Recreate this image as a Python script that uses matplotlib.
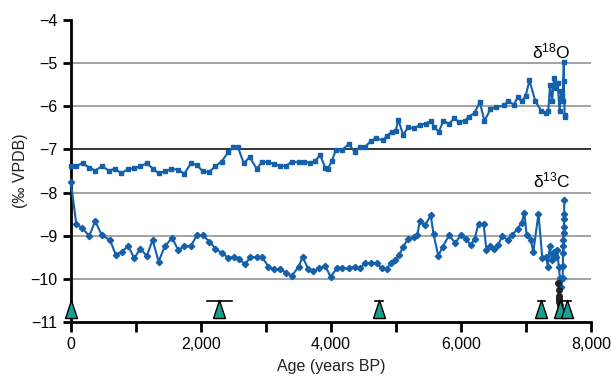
import matplotlib
matplotlib.use("Agg")
import matplotlib.pyplot as plt
from matplotlib.ticker import FuncFormatter

plt.rcParams['font.family'] = ['Liberation Sans', 'DejaVu Sans']
plt.rcParams['mathtext.default'] = 'regular'

# d18O record (age in years BP, permil VPDB)
o18_age = [0, 84, 180, 283, 373, 476, 584, 674, 777, 885, 975, 1066, 1168, 1264, 1349,
           1445, 1547, 1649, 1746, 1848, 1938, 2029, 2131, 2221, 2318, 2420, 2492, 2570,
           2661, 2751, 2860, 2944, 3040, 3130, 3221, 3311, 3401, 3504, 3594, 3684, 3762,
           3835, 3913, 3955, 4015, 4076, 4166, 4274, 4365, 4449, 4527, 4617, 4696, 4798,
           4858, 4936, 4996, 5039, 5111, 5189, 5280, 5370, 5460, 5538, 5592, 5659, 5731,
           5821, 5894, 5972, 6062, 6122, 6212, 6291, 6363, 6453, 6544, 6664, 6724, 6815,
           6875, 6935, 6995, 7056, 7146, 7236, 7314, 7344, 7374, 7404, 7434, 7464, 7489,
           7519, 7543, 7567, 7585, 7585, 7597, 7600]
o18_val = [-7.38, -7.38, -7.32, -7.42, -7.49, -7.39, -7.49, -7.45, -7.55, -7.45, -7.44,
           -7.39, -7.32, -7.45, -7.55, -7.51, -7.45, -7.47, -7.56, -7.32, -7.36, -7.51,
           -7.52, -7.39, -7.28, -7.07, -6.95, -6.95, -7.32, -7.18, -7.45, -7.28, -7.30,
           -7.34, -7.38, -7.38, -7.28, -7.30, -7.28, -7.32, -7.26, -7.13, -7.42, -7.45,
           -7.26, -7.02, -7.02, -6.88, -7.05, -6.94, -6.94, -6.80, -6.74, -6.79, -6.69,
           -6.59, -6.57, -6.32, -6.66, -6.49, -6.51, -6.43, -6.40, -6.34, -6.48, -6.59,
           -6.34, -6.40, -6.28, -6.36, -6.33, -6.24, -6.15, -5.90, -6.34, -6.07, -6.02,
           -5.98, -5.88, -5.96, -5.79, -5.88, -5.77, -5.40, -5.88, -6.10, -6.15, -6.11,
           -5.50, -5.88, -5.34, -5.57, -5.46, -6.11, -5.65, -5.88, -4.96, -5.42, -6.19,
           -6.25]

# d13C record
c13_age = [0, 84, 174, 283, 373, 476, 602, 692, 782, 885, 975, 1066, 1168, 1258, 1349,
           1445, 1559, 1649, 1746, 1848, 1938, 2029, 2131, 2221, 2318, 2420, 2510, 2582,
           2679, 2763, 2860, 2944, 3040, 3130, 3221, 3311, 3401, 3504, 3564, 3654, 3732,
           3823, 3913, 3997, 4088, 4178, 4274, 4365, 4449, 4527, 4617, 4708, 4786, 4858,
           4918, 4990, 5051, 5111, 5189, 5280, 5328, 5370, 5448, 5538, 5580, 5653, 5719,
           5821, 5912, 6002, 6074, 6152, 6212, 6273, 6351, 6393, 6453, 6514, 6574, 6634,
           6724, 6785, 6875, 6935, 6977, 7013, 7073, 7116, 7194, 7254, 7314, 7338, 7368,
           7398, 7428, 7458, 7483, 7507, 7525, 7543, 7567, 7569, 7572, 7575, 7578, 7581,
           7584, 7587, 7589, 7591]
c13_val = [-7.76, -8.74, -8.82, -9.01, -8.66, -8.99, -9.10, -9.45, -9.37, -9.24, -9.53,
           -9.30, -9.47, -9.10, -9.60, -9.25, -9.05, -9.33, -9.25, -9.24, -8.99, -8.99,
           -9.14, -9.30, -9.40, -9.51, -9.50, -9.54, -9.66, -9.50, -9.50, -9.50, -9.72,
           -9.78, -9.78, -9.86, -9.93, -9.72, -9.49, -9.78, -9.83, -9.76, -9.70, -9.96,
           -9.76, -9.76, -9.76, -9.72, -9.76, -9.64, -9.64, -9.64, -9.76, -9.78, -9.64,
           -9.56, -9.45, -9.26, -9.07, -9.04, -8.99, -8.66, -8.76, -8.53, -8.97, -9.47,
           -9.26, -8.99, -9.17, -8.99, -9.07, -9.22, -9.07, -8.72, -8.74, -9.33, -9.24,
           -9.32, -9.22, -9.01, -9.10, -8.99, -8.84, -8.70, -8.47, -8.99, -9.09, -9.37,
           -8.49, -9.53, -9.49, -9.72, -9.24, -9.56, -9.37, -9.49, -9.33, -9.72, -9.99,
           -10.18, -9.99, -9.70, -9.41, -9.25, -9.10, -8.95, -8.80, -8.62, -8.49, -8.17]

# black cluster at the base of the record
blk_age = [7500, 7505, 7510, 7515, 7520, 7512, 7505]
blk_val = [-10.10, -10.25, -10.40, -10.50, -10.62, -10.55, -10.45]

# U-Th dates with errors
date_age = [0, 2285, 4740, 7240, 7520, 7630]
date_err = [0, 195, 60, 60, 0, 60]

blue = '#1460ab'

fig = plt.figure(figsize=(6.11, 3.80), dpi=100)
ax = fig.add_axes([0.116, 0.153, 0.851, 0.794])

for yv in [-5, -6, -7, -8, -9, -10]:
    ax.axhline(yv, color='black' if yv == -7 else '#8a8a8a', lw=1.1, zorder=1)

ax.plot(o18_age, o18_val, color=blue, lw=1.5, marker='s', ms=3.2, zorder=3, clip_on=False)
ax.plot(c13_age, c13_val, color=blue, lw=1.5, marker='D', ms=3.2, zorder=3, clip_on=False)
ax.plot(blk_age, blk_val, color='#222222', lw=1.5, marker='o', ms=4, zorder=4)

tri = [(-0.33, -0.5), (0.33, -0.5), (0, 0.5), (-0.33, -0.5)]
for a, e in zip(date_age, date_err):
    if e > 0:
        ax.plot([a - e, a + e], [-10.52, -10.52], color='black', lw=1.2, zorder=5)
    ax.plot(a, -10.7, marker=tri, ms=13, color='#17a090', mec='black', mew=1.0,
            ls='none', zorder=6, clip_on=False)

ax.text(7690, -4.95, '\u03b4$^{18}$O', ha='right', va='bottom', fontsize=12.5)
ax.text(7690, -7.95, '\u03b4$^{13}$C', ha='right', va='bottom', fontsize=12.5)

ax.set_xlim(0, 8000)
ax.set_ylim(-11, -4)
ax.set_xticks([0, 2000, 4000, 6000, 8000])
ax.set_xticks([1000, 3000, 5000, 7000], minor=True)
ax.xaxis.set_major_formatter(FuncFormatter(lambda v, p: f'{int(v):,}'))
ax.set_yticks(range(-11, -3))
ax.yaxis.set_major_formatter(FuncFormatter(lambda v, p: f'\u2212{abs(int(v))}'))

for s in ['top', 'right']:
    ax.spines[s].set_visible(False)
for s in ['left', 'bottom']:
    ax.spines[s].set_linewidth(2.0)
ax.tick_params(axis='both', which='both', width=2.0, length=6, labelsize=11.5, direction='out')
ax.tick_params(axis='x', which='both', length=7, pad=4)

ax.set_xlabel('Age (years BP)', fontsize=11.5, color='#222222', labelpad=5)
ax.set_ylabel('(\u2030 VPDB)', fontsize=11.5, color='#222222', labelpad=2)

fig.savefig('out.png', dpi=100)
